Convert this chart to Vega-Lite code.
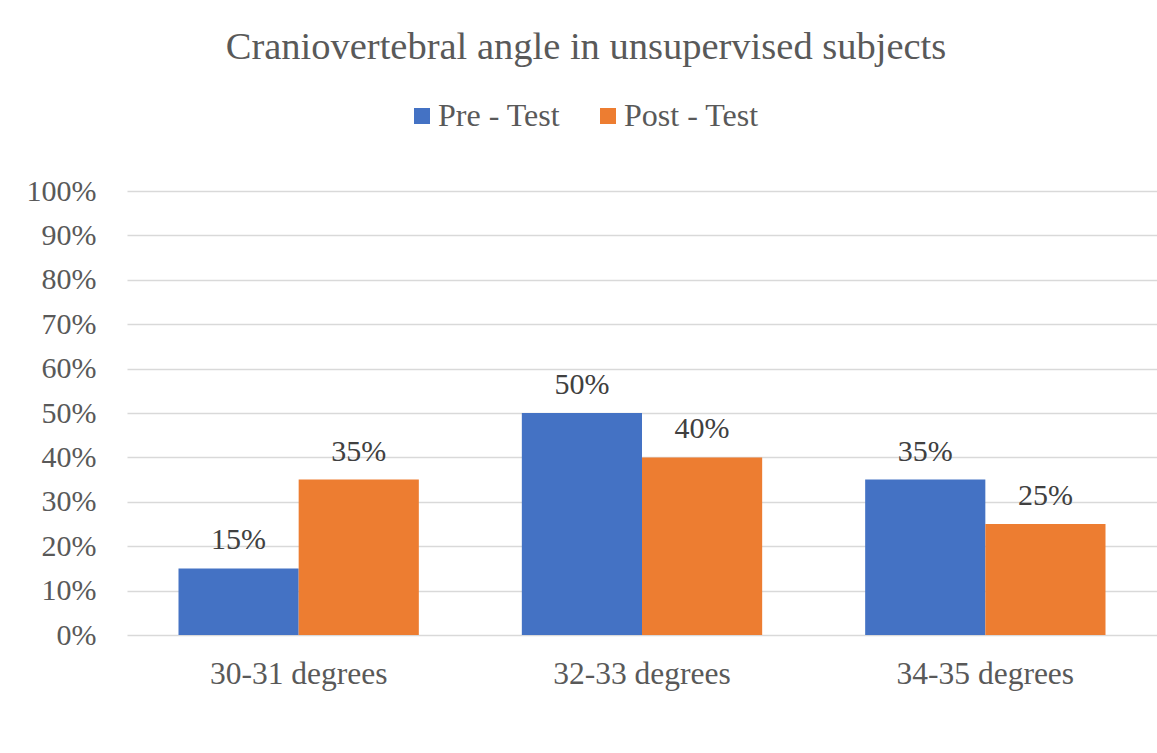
{
  "$schema": "https://vega.github.io/schema/vega-lite/v6.json",
  "width": 1030,
  "height": 444,
  "autosize": {"type": "none"},
  "padding": {"left": 127, "top": 191, "right": 0, "bottom": 118},
  "background": "white",
  "title": {
    "text": "Craniovertebral angle in unsupervised subjects",
    "anchor": "middle",
    "frame": "group",
    "dx": -56,
    "offset": 3,
    "baseline": "alphabetic",
    "font": "Liberation Serif",
    "fontSize": 38.5,
    "fontWeight": "normal",
    "color": "#595959"
  },
  "data": {
    "values": [
      {"range": "30-31 degrees", "test": "Pre - Test", "value": 0.15},
      {"range": "30-31 degrees", "test": "Post - Test", "value": 0.35},
      {"range": "32-33 degrees", "test": "Pre - Test", "value": 0.50},
      {"range": "32-33 degrees", "test": "Post - Test", "value": 0.40},
      {"range": "34-35 degrees", "test": "Pre - Test", "value": 0.35},
      {"range": "34-35 degrees", "test": "Post - Test", "value": 0.25}
    ]
  },
  "encoding": {
    "x": {
      "field": "range",
      "type": "nominal",
      "sort": null,
      "scale": {"paddingInner": 0.3, "paddingOuter": 0.15},
      "axis": {
        "title": null,
        "labelAngle": 0,
        "labelFont": "Liberation Serif",
        "labelFontSize": 31.5,
        "labelColor": "#595959",
        "labelPadding": 23,
        "labelLimit": 400,
        "ticks": false,
        "domain": false,
        "grid": false
      }
    },
    "xOffset": {
      "field": "test",
      "type": "nominal",
      "sort": ["Pre - Test", "Post - Test"],
      "scale": {"paddingInner": 0, "paddingOuter": 0}
    },
    "y": {
      "field": "value",
      "type": "quantitative",
      "scale": {"domain": [0, 1], "nice": false},
      "axis": {
        "title": null,
        "format": ".0%",
        "values": [0, 0.1, 0.2, 0.3, 0.4, 0.5, 0.6, 0.7, 0.8, 0.9, 1],
        "labelFont": "Liberation Serif",
        "labelFontSize": 30,
        "labelColor": "#595959",
        "labelPadding": 31,
        "ticks": false,
        "domain": false,
        "grid": true,
        "gridColor": "#D9D9D9",
        "gridWidth": 1.5
      }
    }
  },
  "layer": [
    {
      "mark": {"type": "bar"},
      "encoding": {
        "color": {
          "field": "test",
          "type": "nominal",
          "sort": ["Pre - Test", "Post - Test"],
          "scale": {"domain": ["Pre - Test", "Post - Test"], "range": ["#4472C4", "#ED7D31"]},
          "legend": {
            "title": null,
            "orient": "none",
            "direction": "horizontal",
            "legendX": 279,
            "legendY": -91,
            "symbolType": "square",
            "symbolSize": 256,
            "symbolStrokeWidth": 0,
            "symbolOpacity": 1,
            "labelFont": "Liberation Serif",
            "labelFontSize": 32,
            "labelColor": "#595959",
            "labelOffset": 0,
            "columnPadding": 31,
            "labelLimit": 300
          }
        }
      }
    },
    {
      "mark": {
        "type": "text",
        "baseline": "alphabetic",
        "dy": -19,
        "font": "Liberation Serif",
        "fontSize": 30,
        "color": "#404040"
      },
      "encoding": {
        "text": {"field": "value", "type": "quantitative", "format": ".0%"}
      }
    }
  ],
  "config": {
    "view": {"stroke": null}
  }
}
